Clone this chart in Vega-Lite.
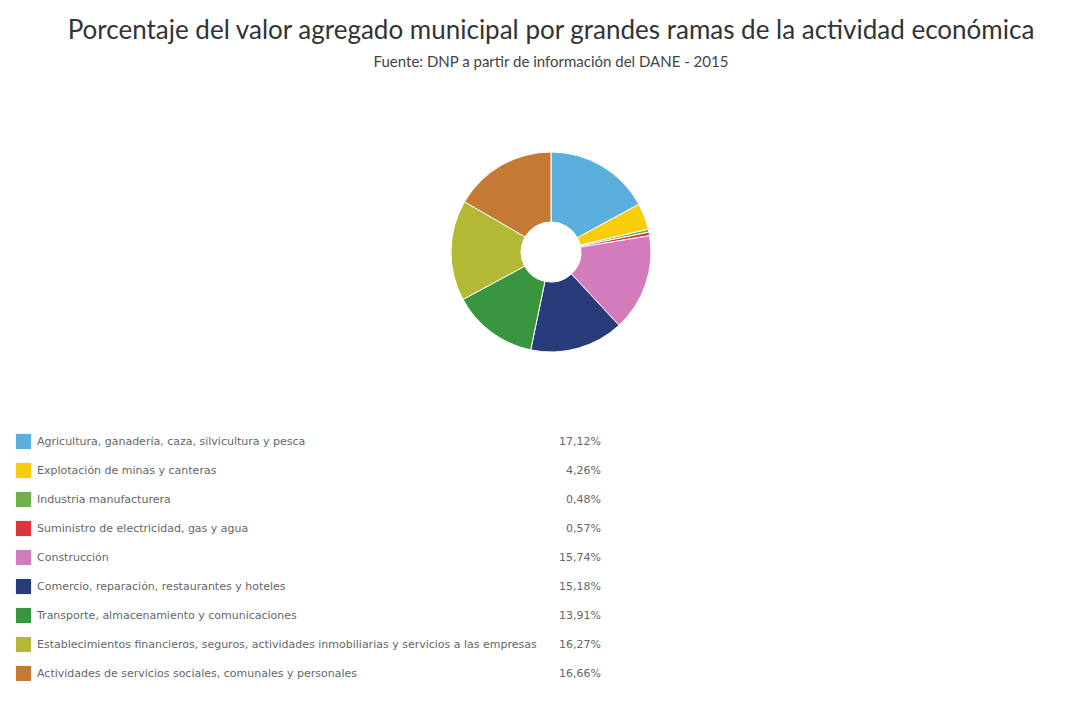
{
  "$schema": "https://vega.github.io/schema/vega-lite/v6.json",
  "padding": {"left": 0, "top": 18, "right": 0, "bottom": 0},
  "background": "#ffffff",
  "title": {
    "text": "Porcentaje del valor agregado municipal por grandes ramas de la actividad económica",
    "subtitle": "Fuente: DNP a partir de información del DANE - 2015",
    "anchor": "middle",
    "dx": 17,
    "font": "Lato",
    "fontSize": 26,
    "fontWeight": "normal",
    "color": "#333333",
    "subtitleFont": "Lato",
    "subtitleFontSize": 15,
    "subtitleColor": "#444444",
    "subtitlePadding": 11,
    "offset": 62
  },
  "datasets": {
    "ramas": [
      {"idx": 1, "cat": "Agricultura, ganadería, caza, silvicultura y pesca", "pct": 17.12, "pct_label": "17,12%"},
      {"idx": 2, "cat": "Explotación de minas y canteras", "pct": 4.26, "pct_label": "4,26%"},
      {"idx": 3, "cat": "Industria manufacturera", "pct": 0.48, "pct_label": "0,48%"},
      {"idx": 4, "cat": "Suministro de electricidad, gas y agua", "pct": 0.57, "pct_label": "0,57%"},
      {"idx": 5, "cat": "Construcción", "pct": 15.74, "pct_label": "15,74%"},
      {"idx": 6, "cat": "Comercio, reparación, restaurantes y hoteles", "pct": 15.18, "pct_label": "15,18%"},
      {"idx": 7, "cat": "Transporte, almacenamiento y comunicaciones", "pct": 13.91, "pct_label": "13,91%"},
      {"idx": 8, "cat": "Establecimientos financieros, seguros, actividades inmobiliarias y servicios a las empresas", "pct": 16.27, "pct_label": "16,27%"},
      {"idx": 9, "cat": "Actividades de servicios sociales, comunales y personales", "pct": 16.66, "pct_label": "16,66%"}
    ]
  },
  "config": {
    "view": {"stroke": null},
    "font": "DejaVu Sans"
  },
  "spacing": 55,
  "vconcat": [
    {
      "width": 1068,
      "height": 240,
      "data": {"name": "ramas"},
      "mark": {"type": "arc", "outerRadius": 100, "innerRadius": 30, "stroke": "#ffffff", "strokeWidth": 1},
      "encoding": {
        "theta": {"field": "pct", "type": "quantitative", "stack": true},
        "order": {"field": "idx", "type": "quantitative"},
        "x": {"datum": 551, "type": "quantitative", "scale": {"domain": [0, 1068]}, "axis": null},
        "color": {
          "field": "cat",
          "type": "nominal",
          "legend": null,
          "sort": {"field": "idx"},
          "scale": {
            "domain": [
              "Agricultura, ganadería, caza, silvicultura y pesca",
              "Explotación de minas y canteras",
              "Industria manufacturera",
              "Suministro de electricidad, gas y agua",
              "Construcción",
              "Comercio, reparación, restaurantes y hoteles",
              "Transporte, almacenamiento y comunicaciones",
              "Establecimientos financieros, seguros, actividades inmobiliarias y servicios a las empresas",
              "Actividades de servicios sociales, comunales y personales"
            ],
            "range": ["#5aafdc", "#f7cd0c", "#72b04e", "#d9363e", "#d27cbc", "#283c7c", "#39963f", "#b3b935", "#c47a33"]
          }
        }
      }
    },
    {
      "width": 600,
      "height": 261,
      "data": {"name": "ramas"},
      "encoding": {
        "y": {"field": "cat", "type": "nominal", "sort": {"field": "idx"}, "axis": null, "scale": {"paddingInner": 0, "paddingOuter": 0}}
      },
      "layer": [
        {
          "mark": {"type": "square", "size": 230, "opacity": 1},
          "encoding": {
            "x": {"datum": 23.5, "type": "quantitative", "scale": {"domain": [0, 600]}, "axis": null},
            "color": {
              "field": "cat",
              "type": "nominal",
              "legend": null,
              "scale": {
                "domain": [
                  "Agricultura, ganadería, caza, silvicultura y pesca",
                  "Explotación de minas y canteras",
                  "Industria manufacturera",
                  "Suministro de electricidad, gas y agua",
                  "Construcción",
                  "Comercio, reparación, restaurantes y hoteles",
                  "Transporte, almacenamiento y comunicaciones",
                  "Establecimientos financieros, seguros, actividades inmobiliarias y servicios a las empresas",
                  "Actividades de servicios sociales, comunales y personales"
                ],
                "range": ["#5aafdc", "#f7cd0c", "#72b04e", "#d9363e", "#d27cbc", "#283c7c", "#39963f", "#b3b935", "#c47a33"]
              }
            }
          }
        },
        {
          "mark": {"type": "text", "align": "left", "baseline": "middle", "fontSize": 11, "font": "DejaVu Sans", "color": "#666666"},
          "encoding": {
            "x": {"datum": 37, "type": "quantitative"},
            "text": {"field": "cat"}
          }
        },
        {
          "mark": {"type": "text", "align": "right", "baseline": "middle", "fontSize": 11, "font": "DejaVu Sans", "color": "#666666"},
          "encoding": {
            "x": {"datum": 601, "type": "quantitative"},
            "text": {"field": "pct_label"}
          }
        }
      ]
    }
  ]
}
